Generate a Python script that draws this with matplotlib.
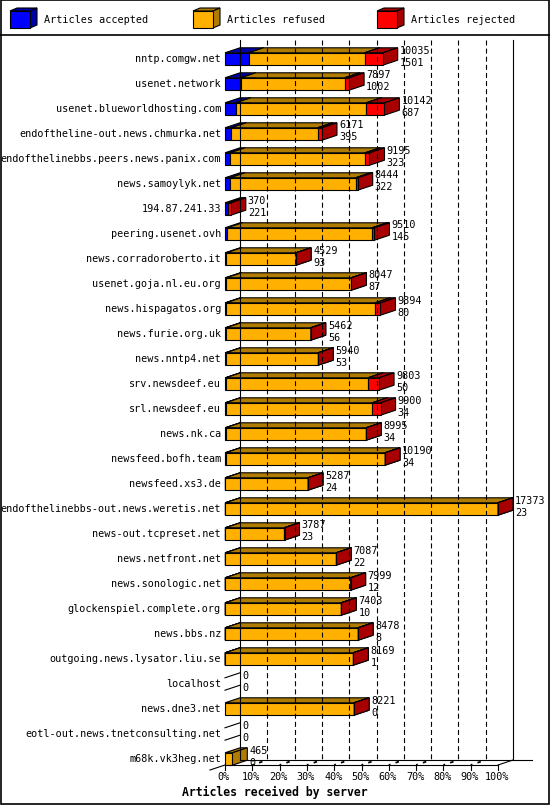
import matplotlib
matplotlib.use('Agg')
import matplotlib.pyplot as plt
from matplotlib.patches import Polygon, Rectangle

# --- data -------------------------------------------------------------
hosts = ['nntp.comgw.net', 'usenet.network', 'usenet.blueworldhosting.com',
         'endoftheline-out.news.chmurka.net', 'endofthelinebbs.peers.news.panix.com',
         'news.samoylyk.net', '194.87.241.33', 'peering.usenet.ovh',
         'news.corradoroberto.it', 'usenet.goja.nl.eu.org', 'news.hispagatos.org',
         'news.furie.org.uk', 'news.nntp4.net', 'srv.newsdeef.eu', 'srl.newsdeef.eu',
         'news.nk.ca', 'newsfeed.bofh.team', 'newsfeed.xs3.de',
         'endofthelinebbs-out.news.weretis.net', 'news-out.tcpreset.net',
         'news.netfront.net', 'news.sonologic.net', 'glockenspiel.complete.org',
         'news.bbs.nz', 'outgoing.news.lysator.liu.se', 'localhost', 'news.dne3.net',
         'eotl-out.news.tnetconsulting.net', 'm68k.vk3heg.net']
received = [10035, 7897, 10142, 6171, 9195, 8444, 370, 9510, 4529, 8047, 9894,
            5462, 5940, 9803, 9900, 8995, 10190, 5287, 17373, 3787, 7087, 7999,
            7403, 8478, 8169, 0, 8221, 0, 465]
accepted = [1501, 1002, 687, 395, 323, 322, 221, 145, 93, 87, 80, 56, 53, 50,
            34, 34, 34, 24, 23, 23, 22, 12, 10, 8, 1, 0, 0, 0, 0]
# rejected counts are estimated from the red part of each bar
rejected = [1150, 280, 1150, 275, 275, 130, 149, 150, 10, 10, 320, 10, 10, 700,
            530, 10, 10, 10, 10, 10, 10, 10, 10, 10, 10, 0, 10, 0, 0]
refused = [t - a - r for t, a, r in zip(received, accepted, rejected)]
pct_ticks = list(range(0, 101, 10))

# --- style ------------------------------------------------------------
W, H = 550, 805
FONT = 'DejaVu Sans Mono'
FS = 7.3
colors = [('#0000ff', '#0000a8'), ('#ffb000', '#b07c00'), ('#ff0000', '#a80000')]
names = ['Articles accepted', 'Articles refused', 'Articles rejected']
LW = 0.8

PX = 273.0            # pixels for 100 %
DX = 15 / PX * 100    # depth offset, in percent units
DY = 5 / 25.0         # depth offset, in rows
HB = 6.2 / 25.0       # half bar height, in rows
R_TOP = (40 - 59) / 25.0
R_BOT = (770 - 59) / 25.0
R_BACK = R_BOT - 2 * DY
R_FRONT = R_BOT - DY

fig = plt.figure(figsize=(W / 100, H / 100), dpi=100)
fig.patch.set_facecolor('white')

# overlay in pixel coords for frame + legend
ov = fig.add_axes([0, 0, 1, 1])
ov.set_xlim(0, W)
ov.set_ylim(H, 0)
ov.axis('off')
ov.add_patch(Rectangle((0.5, 0.5), W - 1.5, H - 1.5, fill=False, ec='black', lw=1.2))
ov.plot([0, W], [35, 35], color='black', lw=1.2)
for (fc, dc), name, lx in zip(colors, names, [10, 193, 377]):
    fx, fy, fw, fh, d, e = lx, 11, 20, 17, 7, 3
    ov.add_patch(Polygon([(fx, fy), (fx + d, fy - e), (fx + fw + d, fy - e), (fx + fw, fy)],
                         fc=dc, ec='black', lw=LW))
    ov.add_patch(Polygon([(fx + fw, fy), (fx + fw + d, fy - e), (fx + fw + d, fy + fh - e),
                          (fx + fw, fy + fh)], fc=dc, ec='black', lw=LW))
    ov.add_patch(Rectangle((fx, fy), fw, fh, fc=fc, ec='black', lw=LW))
    ov.text(fx + 34, 20, name, fontsize=FS, family=FONT, va='center', ha='left')
fig.text(0.5, 1 - 792 / H, 'Articles received by server', fontsize=8.3, family=FONT,
         weight='bold', ha='center', va='center')

# chart axes: x in percent of the largest server, y in rows
ax = fig.add_axes([225 / W, 1 - 770 / H, PX / W, 730 / H])
ax.set_xlim(0, 100)
ax.set_ylim(R_BOT, R_TOP)
ax.axis('off')

# back wall grid
ax.plot([DX, DX], [R_TOP, R_BACK], color='black', lw=LW, clip_on=False)
ax.plot([100 + DX, 100 + DX], [R_TOP, R_BACK], color='black', lw=LW, clip_on=False)
for p in pct_ticks[1:-1]:
    ax.plot([p + DX, p + DX], [R_TOP, R_BACK], color='black', lw=LW,
            ls=(0, (4.5, 2.8)), clip_on=False)
    ax.plot([p, p + DX], [R_FRONT, R_BACK], color='black', lw=LW * 1.6,
            ls=(1, (2, 3)), clip_on=False)
# floor
ax.plot([DX, 100 + DX + 7], [R_BACK, R_BACK], color='black', lw=LW, clip_on=False)
ax.plot([0, 100], [R_FRONT, R_FRONT], color='black', lw=LW, clip_on=False)
ax.plot([100, 100 + DX], [R_FRONT, R_BACK], color='black', lw=LW, clip_on=False)
ax.plot([-DX, 0], [R_BOT, R_FRONT], color='black', lw=LW, clip_on=False)
for p in pct_ticks:
    ax.plot([p, p], [R_FRONT, R_BOT - 0.02], color='black', lw=LW, clip_on=False)
    ax.annotate('%d%%' % p, xy=(p, R_BOT), xytext=(-1, -7), textcoords='offset pixels',
                fontsize=FS, family=FONT, ha='center', va='center', annotation_clip=False)

vmax = max(received)


def box(x0, x1, r, fc, dc):
    top, bot = r - HB, r + HB
    ax.add_patch(Polygon([(x0, top), (x0 + DX, top - DY), (x1 + DX, top - DY), (x1, top)],
                         fc=dc, ec='black', lw=LW, clip_on=False))
    ax.add_patch(Polygon([(x1, top), (x1 + DX, top - DY), (x1 + DX, bot - DY), (x1, bot)],
                         fc=dc, ec='black', lw=LW, clip_on=False))
    ax.add_patch(Rectangle((x0, top), x1 - x0, bot - top, fc=fc, ec='black', lw=LW,
                           clip_on=False))


for r, host in enumerate(hosts):
    segs = [accepted[r], refused[r], rejected[r]]
    start = 0.0
    if received[r] == 0:
        for yy in (r - HB, r + HB):
            ax.plot([0, DX], [yy, yy - DY], color='black', lw=LW, clip_on=False)
    for v, (fc, dc) in zip(segs, colors):
        if v <= 0:
            continue
        end = start + v / vmax * 100
        box(start, end, r, fc, dc)
        start = end
    ax.annotate(host, xy=(0, r), xytext=(-4, 0), textcoords='offset pixels',
                fontsize=FS, family=FONT, ha='right', va='center', annotation_clip=False)
    xe = received[r] / vmax * 100 + DX
    ax.annotate(str(received[r]), xy=(xe, r), xytext=(2, 8.5), textcoords='offset pixels',
                fontsize=FS, family=FONT, ha='left', va='center', annotation_clip=False)
    ax.annotate(str(accepted[r]), xy=(xe, r), xytext=(2, -3.5), textcoords='offset pixels',
                fontsize=FS, family=FONT, ha='left', va='center', annotation_clip=False)

fig.savefig('out.png', dpi=100)
